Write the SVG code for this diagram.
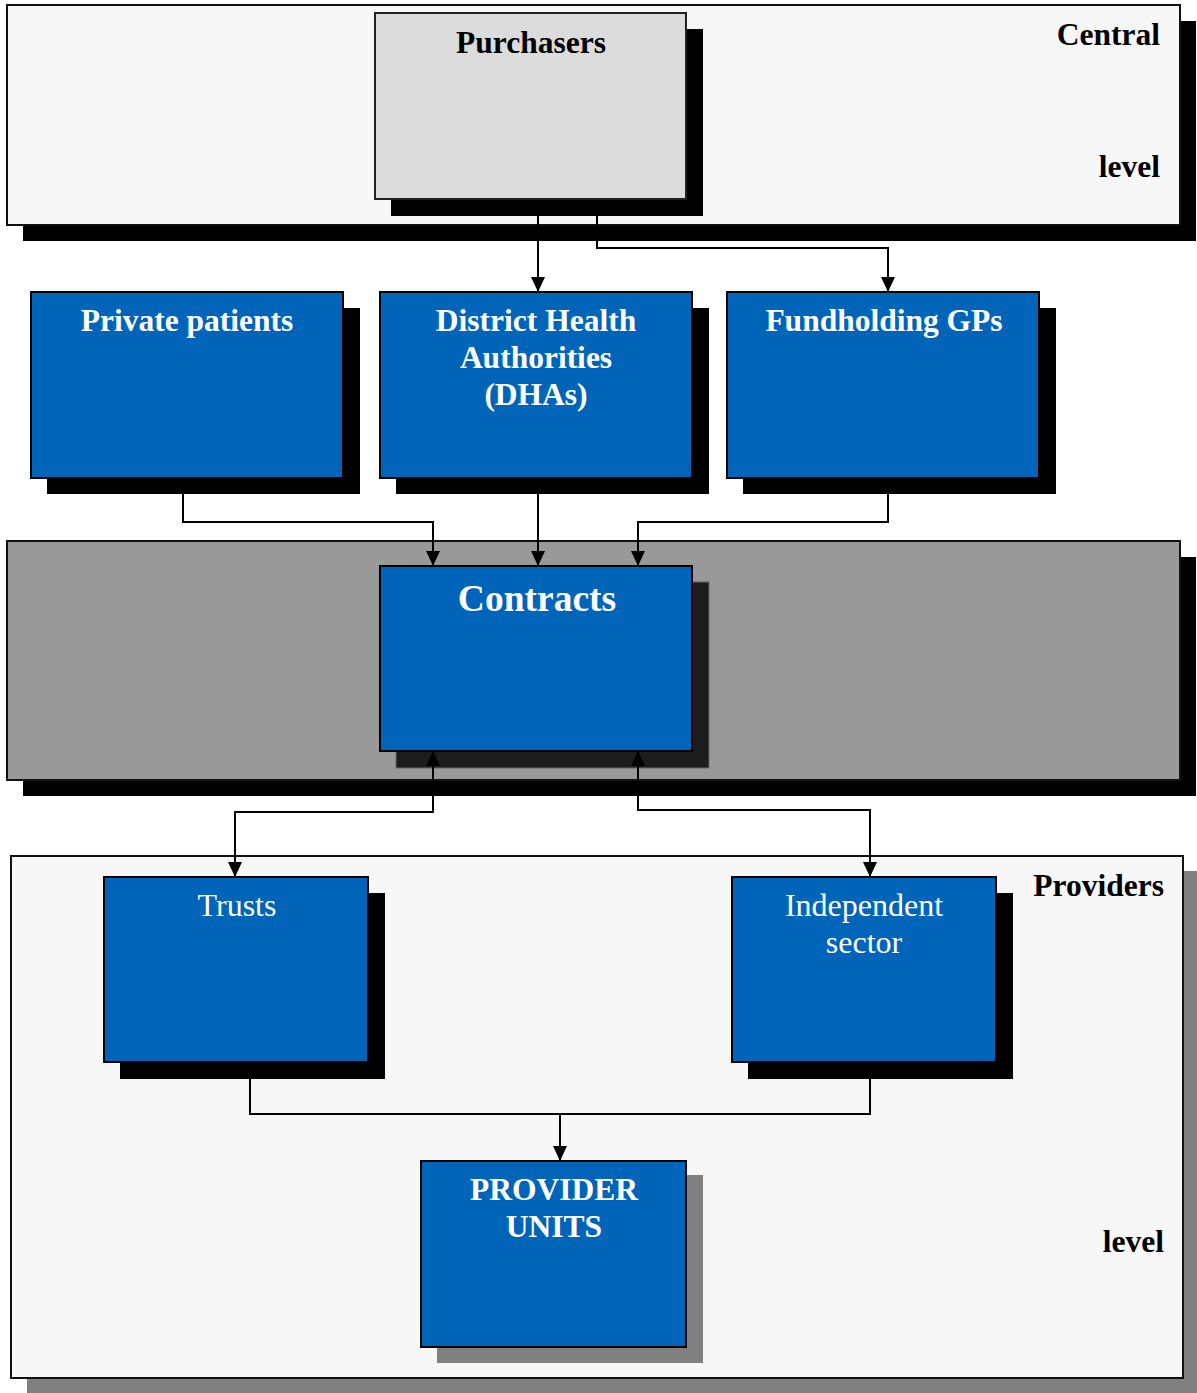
<svg xmlns="http://www.w3.org/2000/svg" width="1197" height="1393" viewBox="0 0 1197 1393">
<style>
.panel{fill:#f7f7f7;stroke:#111;stroke-width:2}
.box{fill:#0064b8;stroke:#000;stroke-width:2}
.sh{fill:#000}
.shg{fill:#808080}
.t{font-family:"Liberation Serif","Times New Roman",serif;font-size:31.5px;font-weight:bold;fill:#000}
.w{font-family:"Liberation Serif","Times New Roman",serif;font-size:31.5px;font-weight:bold;fill:#fff;text-anchor:middle}
.wn{font-family:"Liberation Serif","Times New Roman",serif;font-size:32px;fill:#fff;text-anchor:middle}
.c{fill:none;stroke:#000;stroke-width:2}
</style>
<defs>
<marker id="a" viewBox="0 0 15 14" refX="15" refY="7" markerWidth="15" markerHeight="14" markerUnits="userSpaceOnUse" orient="auto-start-reverse">
<path d="M0,0 L15,7 L0,14 Z" fill="#000"/>
</marker>
</defs>
<rect width="1197" height="1393" fill="#fff"/>
<g id="central-level">
<rect class="sh" x="23" y="21" width="1173" height="220"/>
<rect class="panel" x="7" y="5" width="1173" height="220"/>
<text class="t" x="1160" y="45" text-anchor="end">Central</text>
<text class="t" x="1160" y="177" text-anchor="end">level</text>
</g>
<g id="contracts-level">
<rect class="sh" x="23" y="557" width="1173" height="239"/>
<rect x="7" y="541" width="1173" height="239" fill="#999" stroke="#111" stroke-width="2"/>
</g>
<g id="providers-level">
<rect class="shg" x="27" y="871" width="1170" height="522"/>
<rect class="panel" x="11" y="856" width="1172" height="522"/>
<text class="t" x="1164" y="896" text-anchor="end">Providers</text>
<text class="t" x="1164" y="1252" text-anchor="end">level</text>
</g>
<g id="purchasers">
<rect class="sh" x="391" y="29" width="312" height="187"/>
<rect x="375" y="13" width="311" height="186" fill="#dcdcdc" stroke="#222" stroke-width="2"/>
<text class="t" x="531" y="53" text-anchor="middle">Purchasers</text>
</g>
<g id="private-patients">
<rect class="sh" x="47" y="308" width="313" height="186"/>
<rect class="box" x="31" y="292" width="312" height="186"/>
<text class="w" x="187" y="331">Private patients</text>
</g>
<g id="dhas">
<rect class="sh" x="396" y="308" width="313" height="186"/>
<rect class="box" x="380" y="292" width="312" height="186"/>
<text class="w" x="536" y="331">District Health</text>
<text class="w" x="536" y="368">Authorities</text>
<text class="w" x="536" y="405">(DHAs)</text>
</g>
<g id="fundholding-gps">
<rect class="sh" x="743" y="308" width="313" height="186"/>
<rect class="box" x="727" y="292" width="312" height="186"/>
<text class="w" x="884" y="331">Fundholding GPs</text>
</g>
<g id="contracts">
<rect x="396" y="582" width="313" height="186" fill="#1c1c1c" stroke="#666" stroke-width="1"/>
<rect class="box" x="380" y="566" width="312" height="185"/>
<text class="w" x="537" y="611" style="font-size:37.5px">Contracts</text>
</g>
<g id="trusts">
<rect class="sh" x="120" y="893" width="265" height="186"/>
<rect class="box" x="104" y="877" width="264" height="185"/>
<text class="wn" x="237" y="916">Trusts</text>
</g>
<g id="independent-sector">
<rect class="sh" x="748" y="893" width="265" height="186"/>
<rect class="box" x="732" y="877" width="264" height="185"/>
<text class="wn" x="864" y="916">Independent</text>
<text class="wn" x="864" y="953">sector</text>
</g>
<g id="provider-units">
<rect class="shg" x="437" y="1175" width="266" height="188"/>
<rect class="box" x="421" y="1161" width="265" height="186"/>
<text class="w" x="554" y="1200">PROVIDER</text>
<text class="w" x="554" y="1237">UNITS</text>
</g>
<g id="connectors">
<path class="c" d="M538,216 V292" marker-end="url(#a)"/>
<path class="c" d="M597,216 V248 H888 V292" marker-end="url(#a)"/>
<path class="c" d="M183,478 V522 H433 V566" marker-end="url(#a)"/>
<path class="c" d="M538,478 V566" marker-end="url(#a)"/>
<path class="c" d="M888,478 V522 H638 V566" marker-end="url(#a)"/>
<path class="c" d="M235,877 V812 H433 V751" marker-start="url(#a)" marker-end="url(#a)"/>
<path class="c" d="M870,877 V810 H638 V751" marker-start="url(#a)" marker-end="url(#a)"/>
<path class="c" d="M250,1062 V1114 H870 V1062"/>
<path class="c" d="M560,1114 V1161" marker-end="url(#a)"/>
</g>
</svg>
